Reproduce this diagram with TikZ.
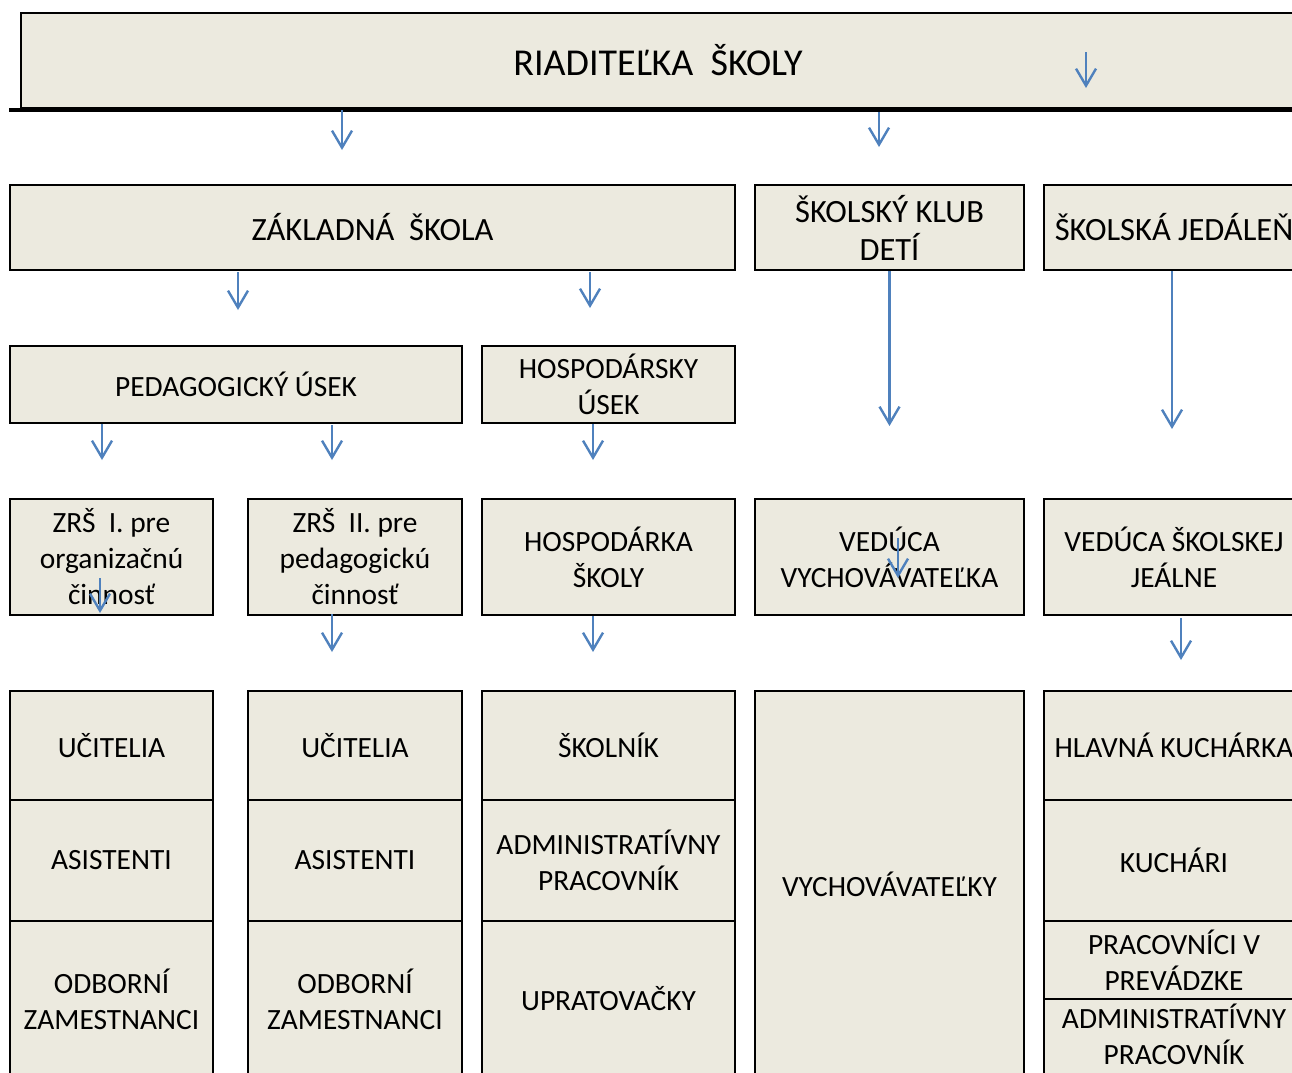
\documentclass[tikz,border=0pt]{standalone}
\usepackage{fontspec}
\setmainfont{Carlito}
\usetikzlibrary{arrows.meta}
\usetikzlibrary{calc}
\definecolor{boxfill}{RGB}{236,234,223}
\definecolor{arrblue}{RGB}{79,129,189}
\tikzset{
  box/.style={draw=black, line width=2pt, fill=boxfill, anchor=north west,
    inner sep=0pt, align=center, font=\fontsize{29.4}{36}\selectfont},
  bigbox/.style={box, font=\fontsize{32.5}{38}\selectfont},
  arr/.style={arrblue, line width=2.4pt, -{Straight Barb[length=17pt,width=20pt,line width=2.4pt]}}
}
\begin{document}
\begin{tikzpicture}[x=1pt,y=-1pt]
\useasboundingbox (0,0) rectangle (1292,1072);
\clip (0,0) rectangle (1292,1072);
% top
\node[box, minimum width=1274, minimum height=95, font=\fontsize{38}{40}\selectfont] (rs) at (20,12) {RIADITEĽKA\ \ ŠKOLY};
\draw[line width=3.5pt] ($(rs.south west)+(-11,1)$) -- ($(rs.south east)+(10,1)$);
% second row
\node[bigbox, minimum width=725, minimum height=85] (zs) at (9,184) {ZÁKLADNÁ\ \ ŠKOLA};
\node[bigbox, minimum width=269, minimum height=85] (skd) at (754,184) {ŠKOLSKÝ KLUB\\DETÍ};
\node[bigbox, minimum width=260, minimum height=85] (sj) at (1043,184) {ŠKOLSKÁ JEDÁLEŇ};
% third row
\node[box, minimum width=452, minimum height=77] (pu) at (9,345) {PEDAGOGICKÝ ÚSEK};
\node[box, minimum width=253, minimum height=77] (hu) at (481,345) {HOSPODÁRSKY\\ÚSEK};
% fourth row
\node[box, minimum width=203, minimum height=116] (zrsa) at (9,498) {ZRŠ\ \ I. pre\\organizačnú\\činnosť};
\node[box, minimum width=214, minimum height=116] (zrsb) at (247,498) {ZRŠ\ \ II. pre\\pedagogickú\\činnosť};
\node[box, minimum width=253, minimum height=116] (hs) at (481,498) {HOSPODÁRKA\\ŠKOLY};
\node[box, minimum width=269, minimum height=116] (vv) at (754,498) {VEDÚCA\\VYCHOVÁVATEĽKA};
\node[box, minimum width=260, minimum height=116] (vsj) at (1043,498) {VEDÚCA ŠKOLSKEJ\\JEÁLNE};
% staff
\foreach \x/\w/\n in {9/203/a, 247/214/b} {
  \node[box, minimum width=\w, minimum height=109] (uc\n) at (\x,690) {UČITELIA};
  \node[box, minimum width=\w, minimum height=121] (as\n) at (\x,799) {ASISTENTI};
  \node[box, minimum width=\w, minimum height=156] (oz\n) at (\x,920) {ODBORNÍ\\ZAMESTNANCI};
}
\node[box, minimum width=253, minimum height=109] (sk) at (481,690) {ŠKOLNÍK};
\node[box, minimum width=253, minimum height=121] (apa) at (481,799) {ADMINISTRATÍVNY\\PRACOVNÍK};
\node[box, minimum width=253, minimum height=156] (up) at (481,920) {UPRATOVAČKY};
\node[box, minimum width=269, minimum height=386] (vy) at (754,690) {VYCHOVÁVATEĽKY};
\node[box, minimum width=260, minimum height=109] (hk) at (1043,690) {HLAVNÁ KUCHÁRKA};
\node[box, minimum width=260, minimum height=121] (ku) at (1043,799) {KUCHÁRI};
% top edge of this one sits under the box above
\node[box, minimum width=260, minimum height=86] (apb) at (1043,990) {ADMINISTRATÍVNY\\PRACOVNÍK};
\node[box, minimum width=260, minimum height=78] (pp) at (1043,920) {PRACOVNÍCI V\\PREVÁDZKE};
% arrows
\draw[arr] (skd.south) -- ++(0,155);
\draw[arr] ($(sj.south)+(-2,0)$) -- ++(0,158);
\foreach \x/\ya/\yb in {342/110/150, 879/112/147, 1086/52/88, 238/272/310, 590/272/308,
  102/424/460, 332/425/460, 593/424/460, 100/578/613, 332/614/652, 593/616/652,
  898/538/578, 1181/618/660}
  \draw[arr] (\x,\ya) -- (\x,\yb);
\end{tikzpicture}
\end{document}
